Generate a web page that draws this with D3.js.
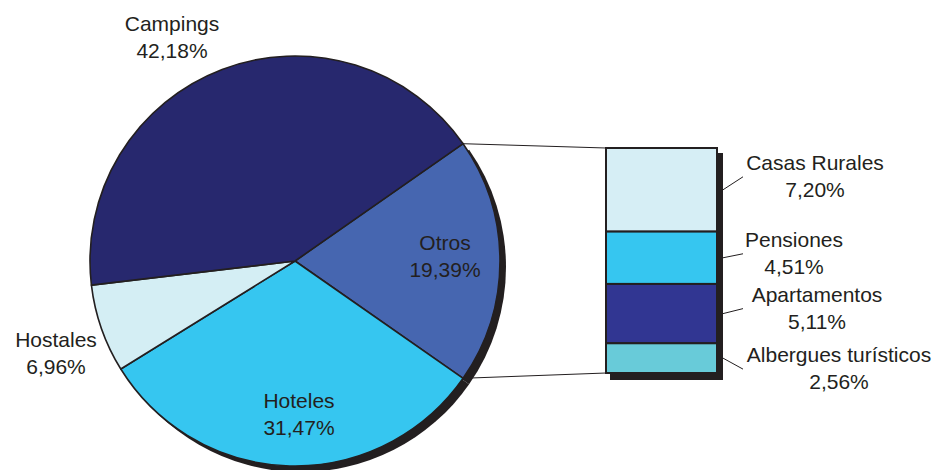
<!DOCTYPE html>
<html lang="es">
<head>
    <meta charset="UTF-8">
    <title>Plazas por tipo de alojamiento</title>
    <script src="https://d3js.org/d3.v7.min.js"></script>
    <style>
        body { margin: 0; background: #fff; }
        text { font-family: "Liberation Sans", Arial, Helvetica, sans-serif; font-size: 21px; fill: #231f20; }
    </style>
</head>
<body>
<script>

// pie data (clockwise, starting with Otros)
const pieLabels = ["Otros", "Hoteles", "Hostales", "Campings"];
const pieValues = [19.39, 31.47, 6.96, 42.18];
const pieColors = ["#4666b0", "#36c6f0", "#d4eef4", "#27286e"];

// breakdown of "Otros"
const barLabels = ["Casas Rurales", "Pensiones", "Apartamentos", "Albergues turísticos"];
const barValues = [7.20, 4.51, 5.11, 2.56];
const barColors = ["#d6eef5", "#36c6f0", "#313692", "#68cbd9"];

// label anchors (layout only)
const pieLabelPos = [[445, 250], [299, 408], [56, 347], [172, 31]];
const barLabelPos = [[815, -20], [794, -11], [817, -12], [839, 4]];

const W = 939, H = 470;
const dark = "#231f20";
const cx = 295, cy = 261, R = 205;

const locale = d3.formatLocale({decimal: ",", thousands: ".", grouping: [3], currency: ["", "€"]});
const pct = v => locale.format(".2f")(v) + "%";

const svg = d3.select("body").append("svg")
    .attr("width", W)
    .attr("height", H);

// pie layout: Otros centred on the right side
const a0 = Math.PI / 2 - (pieValues[0] / d3.sum(pieValues)) * Math.PI;
const pie = d3.pie().sort(null).startAngle(a0).endAngle(a0 + 2 * Math.PI);
const arcs = pie(pieValues);
const arc = d3.arc().innerRadius(0).outerRadius(R);

// stacked bar
const bx = 606, bw = 111;
const y = d3.scaleLinear().domain([0, d3.sum(barValues)]).range([148, 373]);
const stack = [];
let acc = 0;
barValues.forEach((v, i) => { stack.push({i: i, y0: acc, y1: acc + v}); acc += v; });

// connector lines from the Otros slice to the bar
const otros = arcs[0];
const edge = a => [cx + R * Math.sin(a), cy - R * Math.cos(a)];
svg.append("line")
    .attr("x1", edge(otros.startAngle)[0]).attr("y1", edge(otros.startAngle)[1])
    .attr("x2", bx).attr("y2", y(0))
    .attr("stroke", dark).attr("stroke-width", 1);
svg.append("line")
    .attr("x1", edge(otros.endAngle)[0]).attr("y1", edge(otros.endAngle)[1])
    .attr("x2", bx).attr("y2", y(d3.sum(barValues)))
    .attr("stroke", dark).attr("stroke-width", 1);

// pie shadow (only under Otros and Hoteles)
const g = svg.append("g").attr("transform", "translate(" + cx + "," + cy + ")");
g.selectAll(".shadow")
    .data(arcs.slice(0, 2))
    .enter().append("path")
    .attr("class", "shadow")
    .attr("d", arc)
    .attr("transform", "translate(6,6)")
    .attr("fill", dark);

g.selectAll(".slice")
    .data(arcs)
    .enter().append("path")
    .attr("class", "slice")
    .attr("d", arc)
    .attr("fill", (d, i) => pieColors[i])
    .attr("stroke", dark)
    .attr("stroke-width", 1.6)
    .attr("stroke-linejoin", "round");

// pie labels
pieLabels.forEach((name, i) => {
    const t = svg.append("text")
        .attr("text-anchor", "middle")
        .attr("x", pieLabelPos[i][0])
        .attr("y", pieLabelPos[i][1]);
    t.append("tspan").attr("x", pieLabelPos[i][0]).text(name);
    t.append("tspan").attr("x", pieLabelPos[i][0]).attr("dy", 27).text(pct(pieValues[i]));
});

// bar shadow
svg.append("rect")
    .attr("x", bx + 4)
    .attr("y", y(0) + 5)
    .attr("width", bw + 2)
    .attr("height", y(d3.sum(barValues)) - y(0) + 2)
    .attr("fill", dark);

svg.selectAll(".seg")
    .data(stack)
    .enter().append("rect")
    .attr("class", "seg")
    .attr("x", bx)
    .attr("y", d => y(d.y0))
    .attr("width", bw)
    .attr("height", d => y(d.y1) - y(d.y0))
    .attr("fill", d => barColors[d.i])
    .attr("stroke", dark)
    .attr("stroke-width", 2);

// bar labels with leader lines
stack.forEach(d => {
    const mid = (y(d.y0) + y(d.y1)) / 2;
    const lx = barLabelPos[d.i][0];
    const ly = mid + barLabelPos[d.i][1];
    svg.append("line")
        .attr("x1", bx + bw + 6).attr("y1", mid)
        .attr("x2", 743).attr("y2", ly + 7)
        .attr("stroke", dark).attr("stroke-width", 1);
    const t = svg.append("text")
        .attr("text-anchor", "middle")
        .attr("x", lx)
        .attr("y", ly);
    t.append("tspan").attr("x", lx).text(barLabels[d.i]);
    t.append("tspan").attr("x", lx).attr("dy", 27).text(pct(barValues[d.i]));
});

</script>
</body>
</html>
